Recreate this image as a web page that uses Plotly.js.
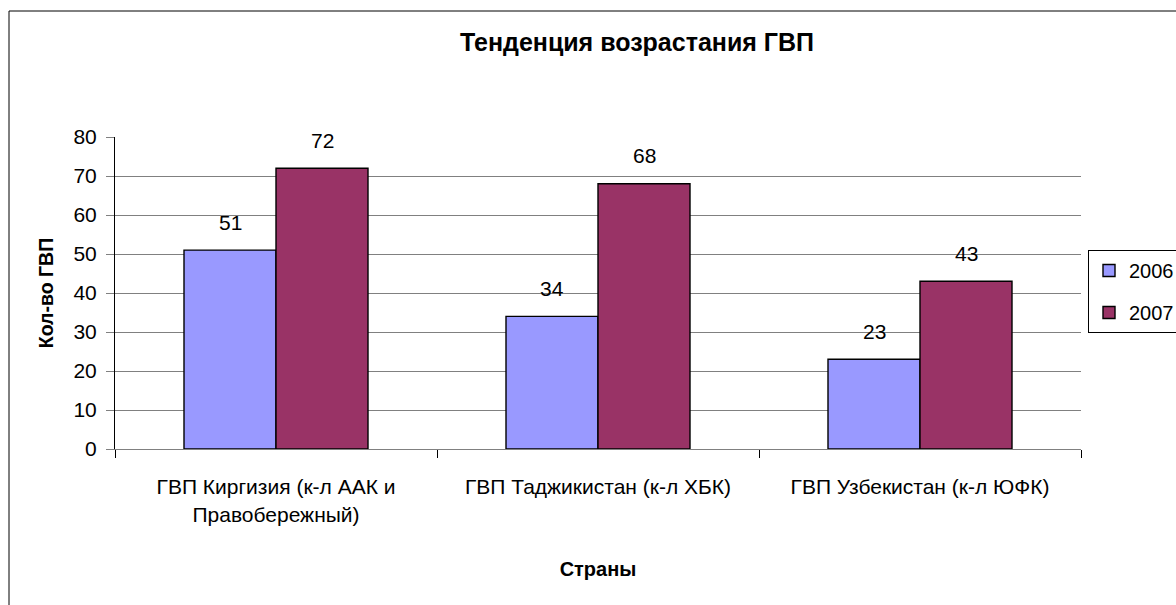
<!DOCTYPE html>
<html>
<head>
<meta charset="utf-8">
<script src="https://cdn.plot.ly/plotly-3.0.1.min.js"></script>
<style>html,body{margin:0;padding:0;background:#fff;overflow:hidden;}#chart{width:1176px;height:605px;}</style>
</head>
<body>
<div id="chart"></div>
<script>
var categories = ["ГВП Киргизия (к-л ААК и<br>Правобережный)", "ГВП Таджикистан (к-л ХБК)", "ГВП Узбекистан (к-л ЮФК)"];
var seriesNames = ["2006", "2007"];
var values2006 = [51, 34, 23];
var values2007 = [72, 68, 43];
var seriesColors = ["#9999FF", "#993366"];
var yTicks = [0, 10, 20, 30, 40, 50, 60, 70, 80];

var FONT = "'Liberation Sans', Arial, sans-serif";
var seriesValues = [values2006, values2007];

var traces = seriesValues.map(function (vals, i) {
  return {
    type: "bar",
    name: seriesNames[i],
    legendgroup: "g" + i,
    x: categories,
    y: vals,
    marker: { color: seriesColors[i], line: { color: "#000000", width: 1.4 } },
    hoverinfo: "x+y+name"
  };
});

var annotations = [];
seriesValues.forEach(function (vals, i) {
  vals.forEach(function (v, j) {
    annotations.push({
      x: categories[j], y: v, xref: "x", yref: "y",
      text: String(v), showarrow: false,
      xshift: (i === 0 ? -46 : 46), yshift: 28,
      yanchor: "middle",
      font: { family: FONT, size: 21, color: "#000" }
    });
  });
});

var W = 966, H = 312, L = 115, T = 137;

var layout = {
  width: 1176, height: 605,
  margin: { l: L, r: 1176 - L - W, t: T, b: 605 - T - H, autoexpand: false },
  paper_bgcolor: "#ffffff", plot_bgcolor: "#ffffff",
  font: { family: FONT, size: 21, color: "#000" },
  title: {
    text: "<b>Тенденция возрастания ГВП</b>",
    font: { family: FONT, size: 25, color: "#000" },
    xref: "container", x: 637 / 1176, xanchor: "center",
    yref: "container", y: 1 - 42 / 605, yanchor: "middle"
  },
  barmode: "group",
  bargap: 0.4286,
  bargroupgap: 0,
  xaxis: {
    type: "category",
    tickson: "boundaries",
    ticks: "outside", ticklen: 8, tickcolor: "#000", tickwidth: 1,
    showline: true, linecolor: "#808080", linewidth: 1,
    showgrid: false, zeroline: false,
    tickfont: { family: FONT, size: 21, color: "#000" },
    ticklabelstandoff: 19,
    title: { text: "<b>Страны</b>", font: { family: FONT, size: 20, color: "#000" }, standoff: 37 },
    automargin: false
  },
  yaxis: {
    range: [0, 80],
    tickvals: yTicks,
    ticks: "outside", ticklen: 8, tickcolor: "#808080", tickwidth: 1,
    showline: true, linecolor: "#000", linewidth: 1,
    showgrid: true, gridcolor: "#808080", gridwidth: 1,
    zeroline: false,
    tickfont: { family: FONT, size: 21, color: "#000" },
    ticklabelstandoff: 5,
    title: { text: "<b>Кол-во ГВП</b>", font: { family: FONT, size: 19.5, color: "#000" }, standoff: 14 },
    automargin: false
  },
  showlegend: true,
  legend: {
    x: (1088 - L) / W, xanchor: "left",
    y: (T + H - 250) / H, yanchor: "top",
    bordercolor: "#000", borderwidth: 1, bgcolor: "#fff",
    font: { family: FONT, size: 20, color: "#000" },
    traceorder: "grouped",
    tracegroupgap: 13,
    itemwidth: 30
  },
  annotations: annotations,
  shapes: [{
    type: "rect", xref: "paper", yref: "paper",
    x0: (9 - L) / W, x1: (1300 - L) / W, y0: -1, y1: (T + H - 11) / H,
    line: { color: "#000", width: 1 }, fillcolor: "rgba(0,0,0,0)", layer: "below"
  }]
};

Plotly.newPlot("chart", traces, layout, { displayModeBar: false, staticPlot: true });
</script>
</body>
</html>
